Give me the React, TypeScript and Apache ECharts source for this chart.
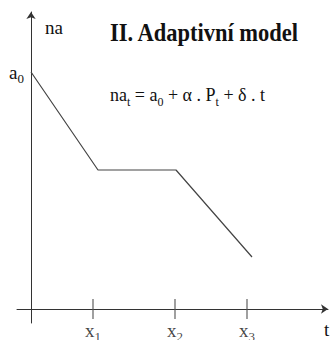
import React, { useEffect, useRef } from "react";
import * as echarts from "echarts";

// Abstract diagram values (axis units)
const tValues = [0, 67, 145, 221];
const naValues = [237, 139, 139, 52];
const tickPositions = [62, 144, 216];
const tickLabels = ["x", "x", "x"];
const tickSubs = ["1", "2", "3"];
const a0Value = 237;
const titleText = "II. Adaptivní model";
const SERIF = "'Liberation Serif', 'Times New Roman', serif";

export default function App() {
  const ref = useRef<HTMLDivElement>(null);
  useEffect(() => {
    if (!ref.current) return;
    const chart = echarts.init(ref.current, null, { renderer: "svg" });
    chart.setOption({
      animation: false,
      backgroundColor: "#ffffff",
      grid: { left: 17, right: 3, top: 12, bottom: 17, containLabel: false, outerBoundsMode: "none" },
      xAxis: {
        type: "value",
        min: -14,
        max: 297,
        axisLine: {
          show: true,
          onZero: true,
          symbol: ["none", "arrow"],
          symbolSize: [7, 7],
          lineStyle: { color: "#333", width: 1 },
        },
        axisTick: { show: false },
        axisLabel: { show: false },
        splitLine: { show: false },
      },
      yAxis: {
        type: "value",
        min: -14,
        max: 297,
        axisLine: {
          show: true,
          onZero: true,
          symbol: ["none", "arrow"],
          symbolSize: [7, 7],
          lineStyle: { color: "#333", width: 1 },
        },
        axisTick: { show: false },
        axisLabel: {
          show: true,
          customValues: [a0Value],
          margin: -7,
          formatter: () => "{m|a}{s|0}",
          rich: {
            m: { fontFamily: SERIF, fontSize: 19, color: "#111", lineHeight: 22 },
            s: { fontFamily: SERIF, fontSize: 13, color: "#111", lineHeight: 22, verticalAlign: "bottom", padding: [0, 0, -2, 0] },
          },
        },
        splitLine: { show: false },
      },
      series: [
        {
          type: "line",
          data: tValues.map((t, i) => [t, naValues[i]]),
          symbol: "none",
          lineStyle: { color: "#444", width: 1.2 },
        },
        {
          type: "scatter",
          data: tickPositions.map((x) => [x, 0]),
          symbol: "rect",
          symbolSize: [1.4, 20],
          itemStyle: { color: "#555" },
          label: {
            show: true,
            position: "bottom",
            distance: 0,
            formatter: (p: any) => `{m|${tickLabels[p.dataIndex]}}{s|${tickSubs[p.dataIndex]}}`,
            rich: {
              m: { fontFamily: SERIF, fontSize: 19, color: "#111", lineHeight: 22 },
              s: { fontFamily: SERIF, fontSize: 13, color: "#111", lineHeight: 22, verticalAlign: "bottom", padding: [0, 0, -2, 0] },
            },
          },
        },
      ],
      graphic: [
        {
          type: "text",
          x: 110,
          y: 33,
          scaleX: 0.9,
          style: {
            text: titleText,
            font: `bold 25px ${SERIF}`,
            fill: "#111",
            textAlign: "left",
            textVerticalAlign: "middle",
          },
        },
        {
          type: "text",
          x: 45,
          y: 27,
          style: {
            text: "na",
            font: `19px ${SERIF}`,
            fill: "#111",
            textAlign: "left",
            textVerticalAlign: "middle",
          },
        },
        {
          type: "text",
          x: 324,
          y: 329,
          style: {
            text: "t",
            font: `19px ${SERIF}`,
            fill: "#111",
            textAlign: "left",
            textVerticalAlign: "middle",
          },
        },
        {
          type: "text",
          x: 110,
          y: 95,
          style: {
            text: "{m|na}{s|t}{m| = a}{s|0}{m| + α . P}{s|t}{m| + δ . t}",
            textAlign: "left",
            textVerticalAlign: "middle",
            rich: {
              m: { fontFamily: SERIF, fontSize: 18, fill: "#111", lineHeight: 20 },
              s: { fontFamily: SERIF, fontSize: 12, fill: "#111", lineHeight: 20, verticalAlign: "bottom", padding: [0, 0, -3, 0] },
            },
          },
        },
      ],
    });
    return () => chart.dispose();
  }, []);
  return <div ref={ref} style={{ width: 331, height: 340, position: "absolute", left: 0, top: 0 }} />;
}
